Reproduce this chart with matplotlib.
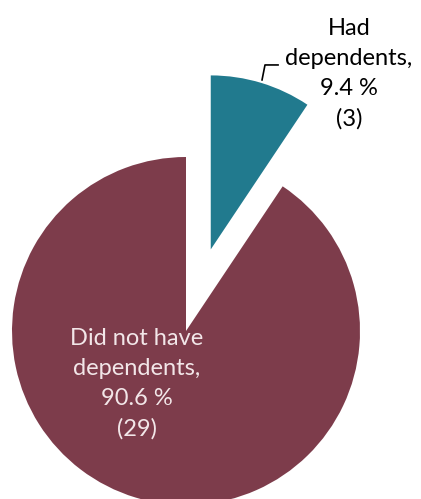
import matplotlib
matplotlib.use("Agg")
import matplotlib.pyplot as plt

labels = ["Had\ndependents,\n9.4 %\n(3)", "Did not have\ndependents,\n90.6 %\n(29)"]
counts = [3, 29]
colors = ["#217A8E", "#7D3C4B"]
explode = [0.49, 0]

plt.rcParams['font.family'] = ['Lato', 'DejaVu Sans']

fig = plt.figure(figsize=(4.21, 4.99), dpi=100)
ax = fig.add_axes([0, 0, 1, 1])

ax.pie(counts, colors=colors, explode=explode, startangle=90,
       counterclock=False, radius=1.0, wedgeprops=dict(linewidth=0))

# labels
ax.text(0.937, 1.48, labels[0], ha='center', va='center', fontsize=17,
        linespacing=1.52, color='black')
ax.text(-0.282, -0.302, labels[1], ha='center', va='center', fontsize=17,
        linespacing=1.52, color='#F2E6E8')

# leader line for the small slice
ax.plot([0.437, 0.454, 0.529], [1.443, 1.529, 1.529], color='black', lw=1.2)

ax.set_xlim(-186 / 174, (421 - 186) / 174)
ax.set_ylim(-(499 - 331) / 174, 331 / 174)
ax.set_aspect('equal')
ax.axis('off')

fig.savefig("out.png", dpi=100)
